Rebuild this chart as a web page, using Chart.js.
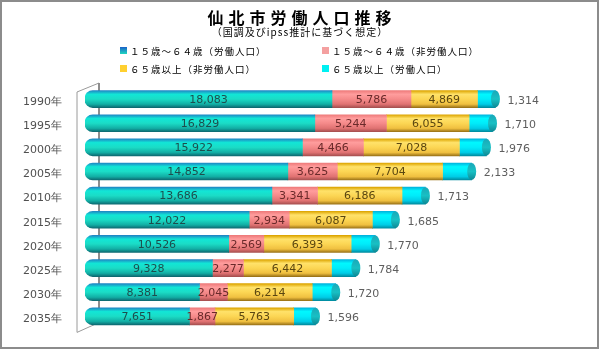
<!DOCTYPE html>
<html lang="ja">
<head>
<meta charset="utf-8">
<script src="https://cdn.jsdelivr.net/npm/chart.js@4"></script>
<style>
  html, body { margin: 0; padding: 0; background: #fff; }
  #wrap { position: relative; width: 600px; height: 350px; }
</style>
</head>
<body>
<div id="wrap"><canvas id="laborChart" width="600" height="350"></canvas></div>
<script>
// ---- data ----
const years = ['1990年', '1995年', '2000年', '2005年', '2010年', '2015年', '2020年', '2025年', '2030年', '2035年'];
const workingAgeLabor    = [18083, 16829, 15922, 14852, 13686, 12022, 10526, 9328, 8381, 7651];
const workingAgeNonLabor = [5786, 5244, 4466, 3625, 3341, 2934, 2569, 2277, 2045, 1867];
const elderlyNonLabor    = [4869, 6055, 7028, 7704, 6186, 6087, 6393, 6442, 6214, 5763];
const elderlyLabor       = [1314, 1710, 1976, 2133, 1713, 1685, 1770, 1784, 1720, 1596];
const seriesNames = ['１５歳～６４歳（労働人口）', '１５歳～６４歳（非労働人口）', '６５歳以上（非労働人口）', '６５歳以上（労働人口）'];

const titleText = '仙北市労働人口推移';
const subtitleText = '（国調及びipss推計に基づく想定）';

// gradient stops per series (top -> bottom of the cylinder)
const barStops = [
  ['#1f86c4', '#12e6d6', '#1bdcc6', '#12aea4', '#0d6a72'],
  ['#ee7a7a', '#ff9d9d', '#f58a8a', '#e07272', '#a85050'],
  ['#dca400', '#ffe26a', '#fcd654', '#f0c040', '#9c7418'],
  ['#00b4de', '#00f8ff', '#00ecfa', '#00cce6', '#008ca0']
];
const labelColors = ['#1d4d4d', '#6a2a2a', '#5a4610'];
const legendColors = ['#1a78cc', '#f4a0a0', '#ffd030', '#00f0f2'];
const BAR_H = 17;

function cylinderFill(idx) {
  return (ctx) => {
    const chart = ctx.chart;
    if (!chart.chartArea || ctx.dataIndex === undefined) return barStops[idx][2];
    const yc = chart.scales.y.getPixelForValue(ctx.dataIndex);
    const g = chart.ctx.createLinearGradient(0, yc - BAR_H / 2, 0, yc + BAR_H / 2);
    const s = barStops[idx];
    g.addColorStop(0, s[0]);
    g.addColorStop(0.22, s[1]);
    g.addColorStop(0.5, s[2]);
    g.addColorStop(0.8, s[3]);
    g.addColorStop(1, s[4]);
    return g;
  };
}

const fmt = v => Number(v).toLocaleString('en-US');

// frame, titles, legend and the 3D wall lines
const decorPlugin = {
  id: 'decor',
  beforeDatasetsDraw(chart) {
    const { ctx, chartArea } = chart;
    const x0 = chartArea.left - 8, x1 = chartArea.left + 14;
    ctx.save();
    ctx.strokeStyle = '#9a9a9a';
    ctx.lineWidth = 1;
    ctx.beginPath();
    ctx.moveTo(x0, chartArea.top + 5); ctx.lineTo(x0, chartArea.bottom + 4);
    ctx.moveTo(x0, chartArea.top + 5); ctx.lineTo(x1, chartArea.top - 4);
    ctx.moveTo(x0, chartArea.bottom + 4); ctx.lineTo(x1 - 2, chartArea.bottom - 5);
    ctx.stroke();
    ctx.lineWidth = 2;
    ctx.strokeStyle = '#8e8e8e';
    ctx.beginPath();
    ctx.moveTo(x1, chartArea.top - 4); ctx.lineTo(x1, chartArea.bottom - 6);
    ctx.stroke();
    ctx.restore();
  },
  afterDraw(chart) {
    const { ctx } = chart;
    ctx.save();
    // outer frame
    ctx.strokeStyle = '#8c8c8c';
    ctx.lineWidth = 2;
    ctx.strokeRect(1, 1, 597, 347);

    ctx.fillStyle = '#000';
    ctx.textAlign = 'center';
    ctx.textBaseline = 'middle';
    ctx.font = 'bold 16px "Noto Sans CJK JP"';
    ctx.letterSpacing = '5px';
    ctx.fillText(titleText, 302, 18);
    ctx.font = '10px "Noto Sans CJK JP"';
    ctx.letterSpacing = '1px';
    ctx.fillText(subtitleText, 300, 32);

    // legend, two columns
    const pos = [[120, 50], [322, 50], [120, 68], [322, 68]];
    ctx.textAlign = 'left';
    ctx.font = '9.5px "Noto Sans CJK JP"';
    ctx.letterSpacing = '1px';
    seriesNames.forEach((name, i) => {
      const [x, y] = pos[i];
      if (i === 0) {
        const g = ctx.createLinearGradient(0, y - 3, 0, y + 4);
        g.addColorStop(0, '#1a60c8'); g.addColorStop(1, '#20d8c0');
        ctx.fillStyle = g;
      } else {
        ctx.fillStyle = legendColors[i];
      }
      ctx.fillRect(x, y - 3, 7, 7);
      ctx.fillStyle = '#000';
      ctx.fillText(name, x + 10, y + 1);
    });
    ctx.restore();
  }
};

// cylinder caps and value labels
const barLabelPlugin = {
  id: 'barLabels',
  afterDatasetsDraw(chart) {
    const { ctx } = chart;
    ctx.save();
    const capMeta = chart.getDatasetMeta(3);
    capMeta.data.forEach(el => {
      const h = el.height;
      const g = ctx.createLinearGradient(0, el.y - h / 2, 0, el.y + h / 2);
      g.addColorStop(0, '#1aa8b8'); g.addColorStop(0.5, '#18c0c4'); g.addColorStop(1, '#0e8894');
      ctx.fillStyle = g;
      ctx.beginPath();
      ctx.ellipse(el.x, el.y, 4.5, h / 2, 0, 0, Math.PI * 2);
      ctx.fill();
    });

    ctx.font = '11px "DejaVu Sans"';
    ctx.textBaseline = 'middle';
    chart.data.datasets.forEach((ds, di) => {
      const meta = chart.getDatasetMeta(di);
      meta.data.forEach((el, i) => {
        const txt = fmt(ds.data[i]);
        if (di < 3) {
          ctx.textAlign = 'center';
          ctx.fillStyle = labelColors[di];
          ctx.fillText(txt, (el.x + el.base) / 2, el.y + 1);
        } else {
          ctx.textAlign = 'left';
          ctx.fillStyle = '#5e5e5e';
          ctx.fillText(txt, el.x + 12, el.y + 2);
        }
      });
    });
    ctx.restore();
  }
};

const datasetValues = [workingAgeLabor, workingAgeNonLabor, elderlyNonLabor, elderlyLabor];

new Chart(document.getElementById('laborChart'), {
  type: 'bar',
  data: {
    labels: years,
    datasets: datasetValues.map((vals, i) => ({
      label: seriesNames[i],
      data: vals,
      backgroundColor: cylinderFill(i),
      borderWidth: 0,
      borderSkipped: i === 0 ? false : 'start',
      borderRadius: i === 0 ? { topLeft: 8, bottomLeft: 8, topRight: 0, bottomRight: 0 } : 0,
      barThickness: BAR_H
    }))
  },
  options: {
    indexAxis: 'y',
    responsive: false,
    animation: false,
    layout: { padding: { top: 87, bottom: 19, left: 0, right: 37 } },
    plugins: {
      legend: { display: false },
      title: { display: false },
      tooltip: { enabled: false }
    },
    scales: {
      x: { stacked: true, min: 0, max: 35000, display: false },
      y: {
        stacked: true,
        grid: { display: false },
        border: { display: false },
        ticks: { color: '#505050', padding: 15, labelOffset: 3, font: { family: 'DejaVu Sans', size: 11 } },
        afterFit: axis => { axis.width = 85; }
      }
    }
  },
  plugins: [decorPlugin, barLabelPlugin]
});
</script>
</body>
</html>
